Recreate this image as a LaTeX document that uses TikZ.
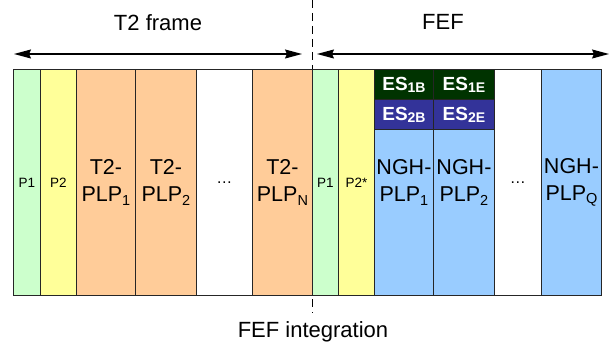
\documentclass[tikz,border=0pt]{standalone}
\usepackage{fontspec}
\setmainfont{Liberation Sans}
\usetikzlibrary{arrows.meta}

\definecolor{pgreen}{HTML}{CCFFCC}
\definecolor{pyellow}{HTML}{FFFF99}
\definecolor{porange}{HTML}{FFCC99}
\definecolor{pblue}{HTML}{99CCFF}
\definecolor{esgreen}{HTML}{003300}
\definecolor{esblue}{HTML}{333399}

% subscripts for the PLP labels and for the ES labels
\newcommand\plpsub[1]{\raisebox{-3.5pt}{\fontsize{14.5}{14.5}\selectfont #1}}
\newcommand\essub[1]{\raisebox{-2pt}{\fontsize{14}{14}\selectfont\bfseries #1}}

\begin{document}
\begin{tikzpicture}[x=1pt,y=-1pt,
  cell/.style={draw=black!85, line width=0.9pt, anchor=north west,
    inner sep=0pt, align=center, minimum height=226pt},
  bigtext/.style={font=\fontsize{21.5}{27}\selectfont},
  smalltext/.style={font=\fontsize{13.5}{16}\selectfont},
  escell/.style={draw=black!85, line width=0.9pt, anchor=north west,
    inner sep=0pt, minimum height=30pt, minimum width=59pt, text=white,
    font=\fontsize{19}{20}\selectfont\bfseries},
  span/.style={line width=1.2pt,
    {Stealth[length=17pt,width=9pt,inset=2pt]}-{Stealth[length=17pt,width=9pt,inset=2pt]}},
  divider/.style={line width=0.9pt, dash pattern=on 8pt off 5pt},
  label/.style={font=\fontsize{22}{26}\selectfont, inner sep=0pt}]

\useasboundingbox (0,0) rectangle (609,347);

% boundary between the T2 frame and the FEF part
\coordinate (dtop) at (312,0);
\coordinate (dbot) at (312,313);
\draw[divider] (dtop) -- (dbot);

% T2 frame columns
\node[cell, fill=pgreen,  minimum width=27pt, smalltext] (p1a)   at (13,69)  {P1};
\node[cell, fill=pyellow, minimum width=36pt, smalltext] (p2a)   at (40,69)  {P2};
\node[cell, fill=porange, minimum width=59pt, bigtext]   (tplp1) at (76,69)  {T2-\\PLP\plpsub{1}};
\node[cell, fill=porange, minimum width=61pt, bigtext]   (tplp2) at (135,69) {T2-\\PLP\plpsub{2}};
\node[cell, fill=white,   minimum width=56pt]            (tgap)  at (196,69) {};
\node[cell, fill=porange, minimum width=60pt, bigtext]   (tplpn) at (252,69) {T2-\\PLP\plpsub{N}};

% FEF columns
\node[cell, fill=pgreen,  minimum width=26pt, smalltext] (p1b)  at (312,69) {P1};
\node[cell, fill=pyellow, minimum width=36pt, smalltext] (p2b)  at (338,69) {P2*};
\node[cell, fill=pblue,   minimum width=59pt, bigtext]   (ngh1) at (374,69) {NGH-\\PLP\plpsub{1}};
\node[cell, fill=pblue,   minimum width=61pt, bigtext]   (ngh2) at (433,69) {NGH-\\PLP\plpsub{2}};
\node[cell, fill=white,   minimum width=47pt]            (ngap) at (494,69) {};
\node[cell, fill=pblue,   minimum width=60pt, bigtext]   (nghq) at (541,69) {NGH-\\PLP\plpsub{Q}};

% ellipses in the empty columns
\node[font=\fontsize{16}{16}\selectfont, inner sep=0pt] (tdots) at (tgap.center) {\dots};
\node[font=\fontsize{16}{16}\selectfont, inner sep=0pt] (ndots) at (ngap.center) {\dots};

% ES cells on top of the first two NGH-PLPs
\node[escell, fill=esgreen] (es1b) at (374,69)  {ES\essub{1B}};
\node[escell, fill=esgreen, minimum width=61pt] (es1e) at (433,69)  {ES\essub{1E}};
\node[escell, fill=esblue]  (es2b) at (374,99)  {ES\essub{2B}};
\node[escell, fill=esblue,  minimum width=61pt] (es2e) at (433,99)  {ES\essub{2E}};

% span arrows and their labels
\coordinate (t2l) at (14,54);
\coordinate (t2r) at (302,54);
\coordinate (fefl) at (317,54);
\coordinate (fefr) at (609,54);
\draw[span] (t2l) -- (t2r);
\draw[span] (fefl) -- (fefr);

\node[label] (t2lab)  at (158,23)  {T2 frame};
\node[label] (feflab) at (443,22)  {FEF};
\node[label] (intlab) at (313,332) {FEF integration};

\end{tikzpicture}
\end{document}
